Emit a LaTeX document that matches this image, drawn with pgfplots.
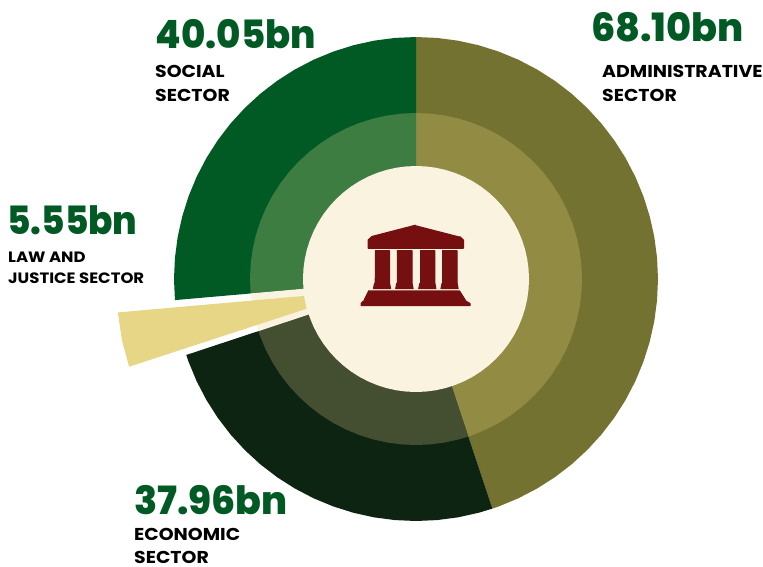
\documentclass[border=0pt]{standalone}
\usepackage{fontspec}
\usepackage{pgfplots}
\pgfplotsset{compat=1.18}
\usepgfplotslibrary{polar}
\setmainfont{Poppins}
\newfontfamily\bigf{Poppins ExtraBold}
\newfontfamily\labf[FakeStretch=1.1]{Poppins Bold}
\definecolor{olive}{HTML}{747230}
\definecolor{oliveL}{HTML}{928B44}
\definecolor{soc}{HTML}{015A24}
\definecolor{socL}{HTML}{3E7D42}
\definecolor{eco}{HTML}{0D2413}
\definecolor{ecoL}{HTML}{434F30}
\definecolor{law}{HTML}{E7D686}
\definecolor{cream}{HTML}{F9F3E0}
\definecolor{icon}{HTML}{761010}
\newcommand{\amt}[3]{\node[anchor=base west,inner sep=0pt,text=soc,font=\bigf\fontsize{39}{39}\selectfont] at (axis cs:#1) {\scalebox{#3}[1]{#2}};}
\newcommand{\lab}[2]{\node[anchor=base west,inner sep=0pt,text=black,font=\labf\fontsize{17.2}{17.2}\selectfont] at (axis cs:#1) {#2};}
\newcommand{\labs}[2]{\node[anchor=base west,inner sep=0pt,text=black,font=\labf\fontsize{15}{15}\selectfont] at (axis cs:#1) {#2};}
\begin{document}
\begin{tikzpicture}[x=1pt,y=1pt]
\useasboundingbox (0,0) rectangle (763,566);
\begin{polaraxis}[hide axis,clip=false,scale only axis,width=600pt,height=600pt,
  at={(416pt,287pt)},anchor=center,xmin=0,xmax=360,ymin=0,ymax=300]
% Administrative, outer
\addplot[fill=olive,draw=none] coordinates {(90,242)(85,242)(80,242)(75,242)(70,242)(65,242)(60,242)(55,242)(50,242)(45,242)(40,242)(35,242)(30,242)(25,242)(20,242)(15,242)(10,242)(5,242)(0,242)(-5,242)(-10,242)(-15,242)(-20,242)(-25,242)(-30,242)(-35,242)(-40,242)(-45,242)(-50,242)(-55,242)(-60,242)(-65,242)(-70,242)(-71.6,242)(0,0)};
% Economic, outer
\addplot[fill=eco,draw=none] coordinates {(-71.6,242)(-75,242)(-80,242)(-85,242)(-90,242)(-95,242)(-100,242)(-105,242)(-110,242)(-115,242)(-120,242)(-125,242)(-130,242)(-135,242)(-140,242)(-145,242)(-150,242)(-155,242)(-160,242)(-161.7,242)(0,0)};
% Social, outer
\addplot[fill=soc,draw=none] coordinates {(185,242)(180,242)(175,242)(170,242)(165,242)(160,242)(155,242)(150,242)(145,242)(140,242)(135,242)(130,242)(125,242)(120,242)(115,242)(110,242)(105,242)(100,242)(95,242)(90,242)(0,0)};
% Inner rings
\addplot[fill=oliveL,draw=none] coordinates {(90,166)(85,166)(80,166)(75,166)(70,166)(65,166)(60,166)(55,166)(50,166)(45,166)(40,166)(35,166)(30,166)(25,166)(20,166)(15,166)(10,166)(5,166)(0,166)(-5,166)(-10,166)(-15,166)(-20,166)(-25,166)(-30,166)(-35,166)(-40,166)(-45,166)(-50,166)(-55,166)(-60,166)(-65,166)(-70,166)(-71.6,166)(0,0)};
\addplot[fill=ecoL,draw=none] coordinates {(-71.6,166)(-75,166)(-80,166)(-85,166)(-90,166)(-95,166)(-100,166)(-105,166)(-110,166)(-115,166)(-120,166)(-125,166)(-130,166)(-135,166)(-140,166)(-145,166)(-150,166)(-155,166)(-160,166)(-161.7,166)(0,0)};
\addplot[fill=socL,draw=none] coordinates {(185,166)(180,166)(175,166)(170,166)(165,166)(160,166)(155,166)(150,166)(145,166)(140,166)(135,166)(130,166)(125,166)(120,166)(115,166)(110,166)(105,166)(100,166)(95,166)(90,166)(0,0)};
\addplot[fill=cream,draw=none] coordinates {(185,166)(190,166)(195,166)(198.3,166)(0,0)};
% Law and justice, pulled out
\addplot[fill=law,draw=none] coordinates {(186.4,300)(191.7,300.4)(197,300)(195.2,113.3)(188.6,113.3)};
% Centre
\addplot[fill=cream,draw=none] coordinates {(0,113)(5,113)(10,113)(15,113)(20,113)(25,113)(30,113)(35,113)(40,113)(45,113)(50,113)(55,113)(60,113)(65,113)(70,113)(75,113)(80,113)(85,113)(90,113)(95,113)(100,113)(105,113)(110,113)(115,113)(120,113)(125,113)(130,113)(135,113)(140,113)(145,113)(150,113)(155,113)(160,113)(165,113)(170,113)(175,113)(180,113)(185,113)(190,113)(195,113)(200,113)(205,113)(210,113)(215,113)(220,113)(225,113)(230,113)(235,113)(240,113)(245,113)(250,113)(255,113)(260,113)(265,113)(270,113)(275,113)(280,113)(285,113)(290,113)(295,113)(300,113)(305,113)(310,113)(315,113)(320,113)(325,113)(330,113)(335,113)(340,113)(345,113)(350,113)(355,113)};
\end{polaraxis}
\begin{axis}[hide axis,clip=false,scale only axis,width=763pt,height=566pt,at={(0pt,0pt)},anchor=south west,
  xmin=0,xmax=763,ymin=0,ymax=566,y dir=reverse,
  icn/.style={mark=none,fill=icon,draw=icon,line width=1.2pt,line join=round}]
% Roof
\addplot[icn] coordinates {(415.7,225.2)(372,236.5)(368.2,240)(368.2,248.2)(463.4,248.2)(463.4,240)(459.5,236.5)};
% Columns
\addplot[icn] coordinates {(375,250.8)(389.5,250.8)(389.5,283)(390.5,288.5)(373.5,288.5)(374.7,283)};
\addplot[icn] coordinates {(396.8,250.8)(412,250.8)(412,283)(413,288.5)(395.8,288.5)(396.8,283)};
\addplot[icn] coordinates {(420,250.8)(434.8,250.8)(434.8,283)(435.8,288.5)(418.8,288.5)(420,283)};
\addplot[icn] coordinates {(442.2,250.8)(457,250.8)(457,283)(458,288.5)(441,288.5)(442.2,283)};
% Base
\addplot[icn] coordinates {(368,291)(459.5,291)(466,301.3)(470,303.5)(470,305.5)(361.2,305.5)(361.2,303.5)(363,301.3)};
\amt{155.5,48}{40.05bn}{0.95}
\lab{155,77}{SOCIAL}
\lab{155,101}{SECTOR}
\amt{591,41}{68.10bn}{0.98}
\lab{602,77}{ADMINISTRATIVE}
\lab{602,101}{SECTOR}
\amt{7,234}{5.55bn}{0.92}
\labs{8,262}{LAW AND}
\labs{8,283.5}{JUSTICE SECTOR}
\amt{134,514}{37.96bn}{0.975}
\lab{134,540}{ECONOMIC}
\lab{134,563.5}{SECTOR}
\end{axis}
\end{tikzpicture}
\end{document}
